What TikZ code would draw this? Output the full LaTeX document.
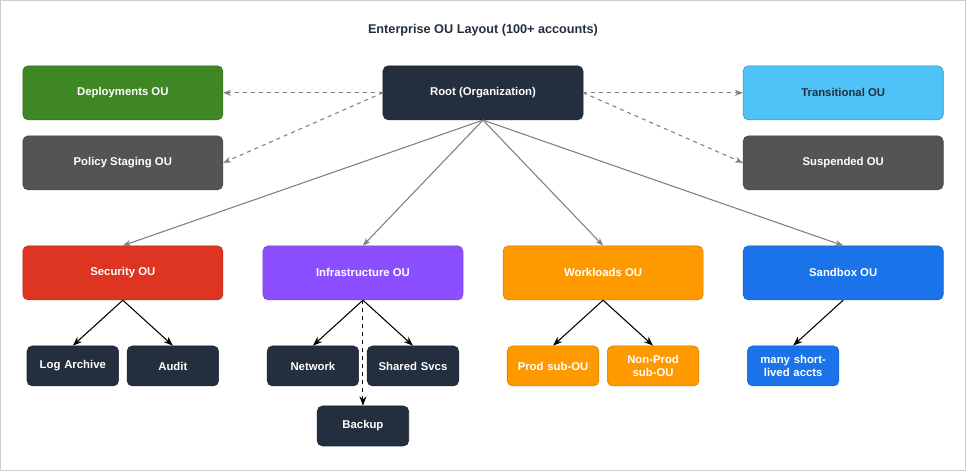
\documentclass[tikz,border=0pt]{standalone}
\usepackage{fontspec}
\setmainfont{Liberation Sans}
\usetikzlibrary{arrows.meta}

\definecolor{navy}{HTML}{232F3E}
\definecolor{ougreen}{HTML}{3F8624}
\definecolor{ougray}{HTML}{545454}
\definecolor{oublue}{HTML}{4FC3F7}
\definecolor{oured}{HTML}{DD3522}
\definecolor{oupurple}{HTML}{8C4FFF}
\definecolor{ouorange}{HTML}{FF9900}
\definecolor{sandblue}{HTML}{1A73E8}

\begin{document}
\begin{tikzpicture}[x=0.75pt,y=-0.75pt]
\tikzstyle{ou} = [rectangle, rounded corners=4pt, draw=#1!80!black, fill=#1, text=white, font=\fontsize{8.5}{10}\selectfont\bfseries, minimum width=150pt, minimum height=40.5pt, align=center]
\tikzstyle{leaf} = [rectangle, rounded corners=4pt, draw=#1!80!black, fill=#1, text=white, font=\fontsize{8.5}{10}\selectfont\bfseries, minimum width=68pt, minimum height=30pt, text width=62pt, align=center]
\tikzstyle{dashline} = [draw=gray, dashed, thick, -{Stealth[length=6pt]}]
\tikzstyle{line} = [draw=gray, thick, -{Stealth[length=6pt]}]
\tikzstyle{child} = [draw=black, thick, -{Stealth[length=7pt]}]

\draw [draw=black!20, fill=white] (0.5,0.5) rectangle (965.5,470.5);

\node [font=\fontsize{9.5}{11}\selectfont\bfseries, text=navy] (title) at (483,30) {Enterprise OU Layout (100+ accounts)};

% Top row
\node [ou=navy] (root) at (483,93) {Root (Organization)};
\node [ou=ougreen] (deploy) at (123,93) {Deployments OU};
\node [ou=ougray] (staging) at (123,163) {Policy Staging OU};
\node [ou=oublue, draw=oublue!70!black, text=navy] (transit) at (843,93) {Transitional OU};
\node [ou=ougray] (suspend) at (843,163) {Suspended OU};

% OU row
\node [ou=oured] (security) at (123,273) {Security OU};
\node [ou=oupurple] (infra) at (363,273) {Infrastructure OU};
\node [ou=ouorange] (work) at (603,273) {Workloads OU};
\node [ou=sandblue] (sandbox) at (843,273) {Sandbox OU};

% Leaves
\node [leaf=navy] (logs) at (73,366) {Log Archive};
\node [leaf=navy] (audit) at (173,366) {Audit};
\node [leaf=navy] (network) at (313,366) {Network};
\node [leaf=navy] (shared) at (413,366) {Shared Svcs};
\node [leaf=navy] (backup) at (363,426) {Backup};
\node [leaf=ouorange] (prod) at (553,366) {Prod sub-OU};
\node [leaf=ouorange] (nonprod) at (653,366) {Non-Prod sub-OU};
\node [leaf=sandblue] (many) at (793,366) {many short-lived accts};

% Connections
\draw [dashline] (root.west) -- (deploy.east);
\draw [dashline] (root.west) -- (staging.east);
\draw [dashline] (root.east) -- (transit.west);
\draw [dashline] (root.east) -- (suspend.west);
\foreach \ou in {security,infra,work,sandbox}
  \draw [line] (root.south) -- (\ou.north);
\draw [child] (security.south) -- (logs.north);
\draw [child] (security.south) -- (audit.north);
\draw [child] (infra.south) -- (network.north);
\draw [child] (infra.south) -- (shared.north);
\draw [child, dashed] (infra.south) -- (backup.north);
\draw [child] (work.south) -- (prod.north);
\draw [child] (work.south) -- (nonprod.north);
\draw [child] (sandbox.south) -- (many.north);

\end{tikzpicture}
\end{document}
